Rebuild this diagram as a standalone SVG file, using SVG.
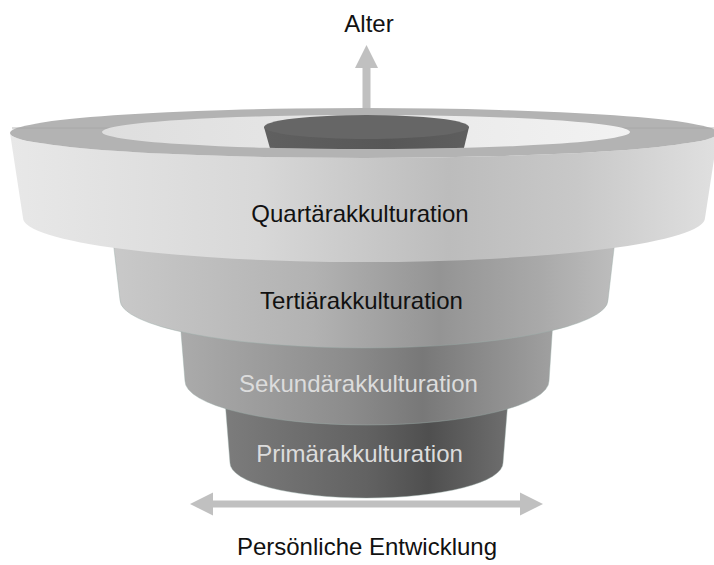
<svg xmlns="http://www.w3.org/2000/svg" width="714" height="565" viewBox="0 0 714 565">
<style>
  .lbl { font-family: "Liberation Sans", Arial, sans-serif; font-size: 24px; text-anchor: middle; }
  .dark { fill: #111111; }
  .light { fill: #dcdcdc; }
  .arrow { fill: #c0c0c0; }
  .edge { stroke: #9aaea8; stroke-width: 0.6; stroke-opacity: 0.7; }
</style>
<defs>
  <linearGradient id="gQ" x1="0" y1="0" x2="1" y2="0">
    <stop offset="0" stop-color="#e8e8e8"/>
    <stop offset="0.35" stop-color="#d8d8d8"/>
    <stop offset="0.62" stop-color="#bcbcbc"/>
    <stop offset="0.8" stop-color="#c8c8c8"/>
    <stop offset="1" stop-color="#e0e0e0"/>
  </linearGradient>
  <linearGradient id="gT" x1="0" y1="0" x2="1" y2="0">
    <stop offset="0" stop-color="#c9c9c9"/>
    <stop offset="0.4" stop-color="#b2b2b2"/>
    <stop offset="0.65" stop-color="#949494"/>
    <stop offset="0.85" stop-color="#a9a9a9"/>
    <stop offset="1" stop-color="#bdbdbd"/>
  </linearGradient>
  <linearGradient id="gS" x1="0" y1="0" x2="1" y2="0">
    <stop offset="0" stop-color="#ababab"/>
    <stop offset="0.45" stop-color="#8c8c8c"/>
    <stop offset="0.65" stop-color="#787878"/>
    <stop offset="1" stop-color="#a0a0a0"/>
  </linearGradient>
  <linearGradient id="gP" x1="0" y1="0" x2="1" y2="0">
    <stop offset="0" stop-color="#7c7c7c"/>
    <stop offset="0.5" stop-color="#626262"/>
    <stop offset="0.72" stop-color="#4f4f4f"/>
    <stop offset="1" stop-color="#6e6e6e"/>
  </linearGradient>
  <linearGradient id="gO" x1="0" y1="0" x2="1" y2="0">
    <stop offset="0" stop-color="#dedede"/>
    <stop offset="1" stop-color="#f2f2f2"/>
  </linearGradient>
  <linearGradient id="gD" x1="0" y1="0" x2="1" y2="0">
    <stop offset="0" stop-color="#606060"/>
    <stop offset="0.6" stop-color="#575757"/>
    <stop offset="1" stop-color="#5e5e5e"/>
  </linearGradient>
  <clipPath id="openClip">
    <ellipse cx="366" cy="132" rx="264" ry="17"/>
    <rect x="0" y="0" width="714" height="132"/>
  </clipPath>
</defs>

<g id="connectors">
  <polygon id="arrow-alter" class="arrow" points="362.5,112 362.5,68 355,68 366.5,45 378,68 370.5,68 370.5,112"/>
  <polygon id="arrow-entwicklung" class="arrow" points="190,504 213,492.5 213,500.5 520,500.5 520,492.5 543,504 520,515.5 520,507.5 213,507.5 213,515.5"/>
</g>

<g id="node-primaer">
  <path class="edge" d="M225,400 L230,463 A136.5,35 0 0,0 503,463 L508,400 Z" fill="url(#gP)"/>
  <text class="lbl light" x="359.5" y="462">Primärakkulturation</text>
</g>

<g id="node-sekundaer">
  <path class="edge" d="M180,320 L185,381 A182,44 0 0,0 549,381 L553,320 Z" fill="url(#gS)"/>
  <text class="lbl light" x="358.5" y="392">Sekundärakkulturation</text>
</g>

<g id="node-tertiaer">
  <path class="edge" d="M113,240 L120,300 A244,48 0 0,0 608,300 L615,240 Z" fill="url(#gT)"/>
  <text class="lbl dark" x="361.5" y="309">Tertiärakkulturation</text>
</g>

<g id="node-quartaer">
  <path d="M10,133 A354,25 0 0,0 718,133 L705,218 A341,44 0 0,1 23,218 Z" fill="url(#gQ)"/>
  <ellipse cx="364" cy="133" rx="354" ry="25" fill="#b3b3b3"/>
  <line x1="12" y1="128" x2="716" y2="128" stroke="#a6a6a6" stroke-width="0.8"/>
  <ellipse cx="366" cy="132" rx="264" ry="17" fill="url(#gO)"/>
  <g clip-path="url(#openClip)">
    <path d="M264,127 L271,152 L463,152 L469,127 Z" fill="url(#gD)"/>
    <ellipse cx="366.5" cy="127" rx="102.5" ry="12" fill="#666666"/>
  </g>
  <text class="lbl dark" x="360" y="222">Quartärakkulturation</text>
</g>

<g id="axis-labels">
  <text class="lbl dark" x="369" y="32">Alter</text>
  <text class="lbl dark" x="367" y="555">Persönliche Entwicklung</text>
</g>
</svg>
